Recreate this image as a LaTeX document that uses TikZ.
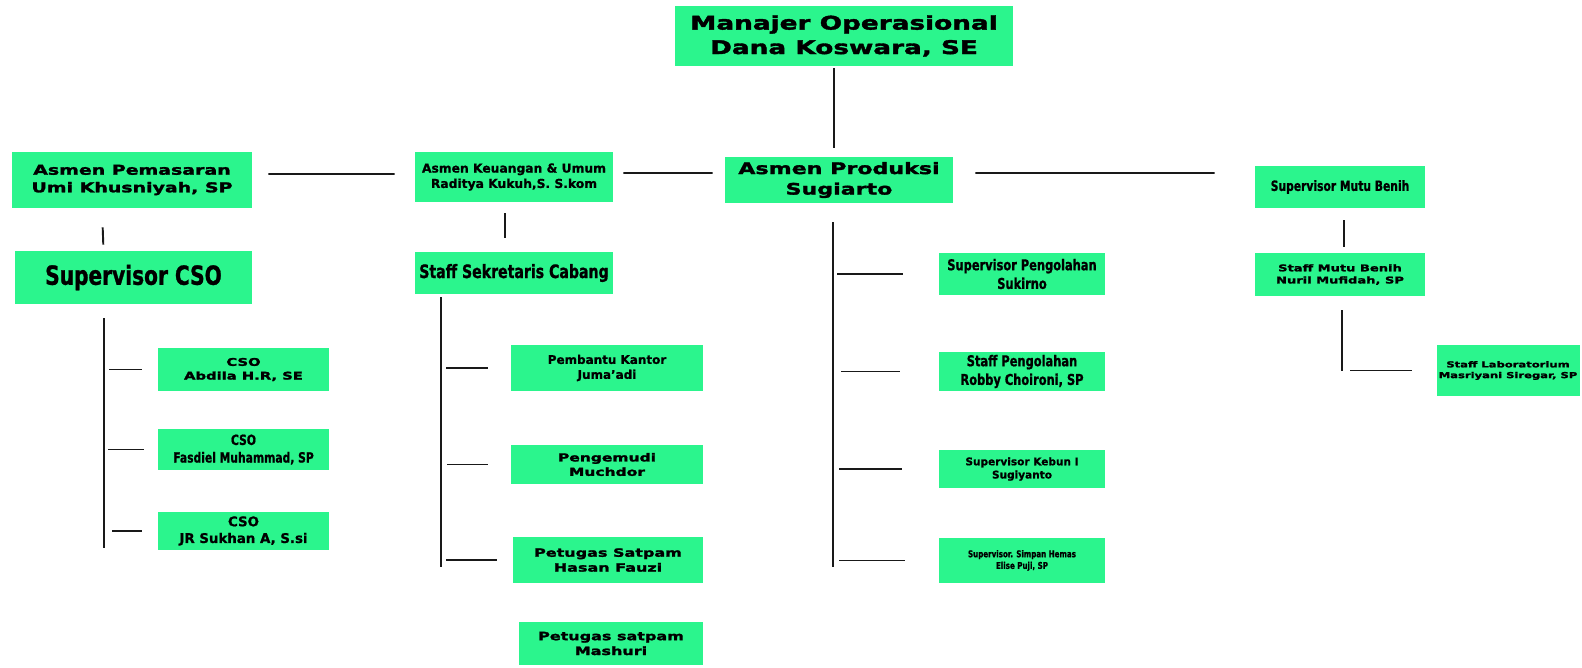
\documentclass[tikz,border=0pt]{standalone}
\usepackage{fontspec}
\setmainfont{DejaVu Sans}
\newfontfamily\heavyfont{DejaVu Sans Bold}[FakeStretch=1.4,FakeBold=2]
\newfontfamily\condfont{DejaVu Sans Condensed Bold}[FakeStretch=0.85,FakeBold=1]
\newfontfamily\boldfont{DejaVu Sans Bold}[FakeBold=1]
\definecolor{boxgreen}{RGB}{43,245,141}
\definecolor{inkline}{RGB}{25,25,25}
\begin{document}
\begin{tikzpicture}
    [   x=0.02cm,y=-0.02cm,
        box/.style 2 args={fill=boxgreen,minimum width=#1*0.02cm,minimum height=#2*0.02cm,inner sep=0pt,align=center,text=black},
        heavy/.style={font=\heavyfont\fontsize{#1}{1.3\dimexpr#1pt\relax}\selectfont},
        cond/.style={font=\condfont\fontsize{#1}{1.25\dimexpr#1pt\relax}\selectfont},
        bold/.style={font=\boldfont\fontsize{#1}{1.25\dimexpr#1pt\relax}\selectfont},
        conn/.style={draw=inkline,line width=1.1pt},
    ]
        \useasboundingbox (0,0) rectangle (1582,667);
        % top row
        \node[box={338}{60},heavy=10.7] (mgr) at (844,36) {Manajer Operasional\\Dana Koswara, SE};
        \node[box={240}{56},heavy=7.7] (pem) at (132,180) {Asmen Pemasaran\\Umi Khusniyah, SP};
        \node[box={198}{50},bold=7] (keu) at (514,177) {Asmen Keuangan \& Umum\\Raditya Kukuh,S. S.kom};
        \node[box={228}{46},heavy=9] (prod) at (839,180) {Asmen Produksi\\Sugiarto};
        \node[box={170}{42},cond=8] (mutu) at (1340,187) {Supervisor Mutu Benih};
        % second row
        \node[box={237}{53},cond=15] (cso) at (133.5,277.5) {Supervisor CSO};
        \node[box={198}{42},cond=10.5] (sek) at (514,273) {Staff Sekretaris Cabang};
        \node[box={170}{43},heavy=5.3] (smutu) at (1340,274.5) {Staff Mutu Benih\\Nuril Mufidah, SP};
        % pemasaran
        \node[box={171}{43},heavy=6] (cso1) at (243.5,369.5) {CSO\\Abdila H.R, SE};
        \node[box={171}{41},cond=8] (cso2) at (243.5,449.5) {CSO\\Fasdiel Muhammad, SP};
        \node[box={171}{38},bold=7.6] (cso3) at (243.5,531) {CSO\\JR Sukhan A, S.si};
        % keuangan
        \node[box={192}{46},bold=6.8] (pk) at (607,368) {Pembantu Kantor\\Juma’adi};
        \node[box={192}{39},heavy=6.3] (peng) at (607,464.5) {Pengemudi\\Muchdor};
        \node[box={190}{46},heavy=6.5] (sat1) at (608,560) {Petugas Satpam\\Hasan Fauzi};
        \node[box={184}{43},heavy=6.5] (sat2) at (611,643.5) {Petugas satpam\\Mashuri};
        % produksi
        \node[box={166}{42},cond=8.5] (spol) at (1022,274) {Supervisor Pengolahan\\Sukirno};
        \node[box={166}{39},cond=8.5] (stpol) at (1022,371.5) {Staff Pengolahan\\Robby Choironi, SP};
        \node[box={166}{38},bold=6] (keb) at (1022,469) {Supervisor Kebun I\\Sugiyanto};
        \node[box={166}{45},cond=5.3] (hem) at (1022,560.5) {Supervisor. Simpan Hemas\\Elise Puji, SP};
        % mutu
        \node[box={143}{51},heavy=4.7] (lab) at (1508,370.5) {Staff Laboratorium\\Masriyani Siregar, SP};

        % loose strokes between the boxes
        \coordinate (mgrdrop) at ([xshift=-0.2cm]mgr.south);
        \draw[conn,shorten <=0.04cm,shorten >=0.18cm] (mgrdrop) -- (mgrdrop |- prod.north);
        \draw[conn,shorten <=0.32cm,shorten >=0.4cm] ([yshift=0.12cm]pem.east) -- ([yshift=0.06cm]keu.west);
        \draw[conn,shorten <=0.2cm,shorten >=0.24cm] ([yshift=0.08cm]keu.east) -- ([yshift=0.14cm]prod.west);
        \draw[conn,shorten <=0.44cm,shorten >=0.8cm] ([yshift=0.14cm]prod.east) -- ([yshift=0.28cm]mutu.west);
        \draw[conn,shorten <=0.38cm,shorten >=0.12cm] ([xshift=-0.6cm]pem.south) -- ([xshift=-0.6cm]cso.north);
        \draw[conn,shorten <=0.22cm,shorten >=0.28cm] ([xshift=-0.18cm]keu.south) -- ([xshift=-0.18cm]sek.north);
        \draw[conn,shorten <=0.24cm,shorten >=0.12cm] ([xshift=0.08cm]mutu.south) -- ([xshift=0.08cm]smutu.north);

        % bus lines
        \coordinate (csobus) at ([xshift=-0.59cm]cso.south);
        \coordinate (sekbus) at ([xshift=-1.46cm]sek.south);
        \coordinate (prodbus) at ([xshift=-0.12cm]prod.south);
        \coordinate (mutubus) at ([xshift=0.04cm]smutu.south);
        \draw[conn,shorten <=0.28cm,shorten >=0.04cm] (csobus) -- (csobus |- cso3.south);
        \draw[conn,shorten <=0.06cm,shorten >=0.32cm] (sekbus) -- (sekbus |- sat1.south);
        \draw[conn,shorten <=0.38cm,shorten >=0.32cm] (prodbus) -- (prodbus |- hem.south);
        \draw[conn,shorten <=0.28cm] (mutubus) -- (mutubus |- lab.west);
        \foreach \b/\n/\s/\e in {csobus/cso1/0.1/0.32, csobus/cso2/0.08/0.28, csobus/cso3/0.16/0.32,
                                 sekbus/pk/0.1/0.46, sekbus/peng/0.12/0.46, sekbus/sat1/0.1/0.32,
                                 prodbus/spol/0.08/0.72, prodbus/stpol/0.16/0.78, prodbus/keb/0.12/0.74,
                                 prodbus/hem/0.12/0.68, mutubus/lab/0.16/0.48}
        {   \draw[conn,shorten <=\s cm,shorten >=\e cm] (\b |- \n.west) -- (\n.west);
        }
    \end{tikzpicture}
\end{document}
